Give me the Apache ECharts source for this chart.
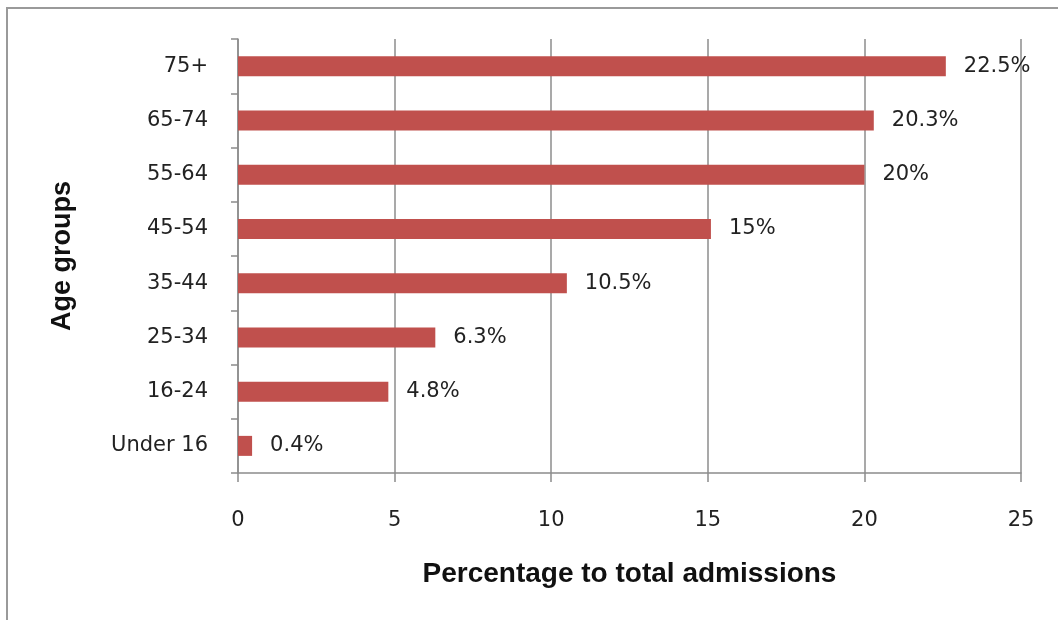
<!DOCTYPE html>
<html>
<head>
<meta charset="utf-8">
<script src="https://cdn.jsdelivr.net/npm/echarts@6/dist/echarts.min.js"></script>
<style>
html,body{margin:0;padding:0;background:#fff;}
#chart{width:1058px;height:620px;}
</style>
</head>
<body>
<div id="chart"></div>
<script>
const categories = ['Under 16', '16-24', '25-34', '35-44', '45-54', '55-64', '65-74', '75+'];
const values = [0.45, 4.8, 6.3, 10.5, 15.1, 20, 20.3, 22.6];
const labelTexts = ['0.4%', '4.8%', '6.3%', '10.5%', '15%', '20%', '20.3%', '22.5%'];
const xTicks = [0, 5, 10, 15, 20, 25];

const chart = echarts.init(document.getElementById('chart'), null, {renderer: 'canvas'});
const gray = '#8c8c8c';
chart.setOption({
  animation: false,
  backgroundColor: '#fff',
  graphic: [{
    type: 'rect',
    shape: {x: 7, y: 8, width: 1200, height: 800},
    style: {fill: 'none', stroke: '#9a9a9a', lineWidth: 2},
    silent: true, z: -1
  }],
  grid: {left: 238, right: 37, top: 39, bottom: 147, containLabel: false},
  xAxis: {
    type: 'value',
    min: xTicks[0], max: xTicks[xTicks.length - 1], interval: 5,
    name: 'Percentage to total admissions',
    nameLocation: 'middle',
    nameGap: 87,
    nameTextStyle: {fontFamily: 'Liberation Sans', fontWeight: 'bold', fontSize: 28, color: '#111'},
    axisLine: {show: true, lineStyle: {color: gray, width: 1.5}},
    axisTick: {show: true, length: 9, lineStyle: {color: gray, width: 1.5}},
    axisLabel: {margin: 37, fontFamily: 'DejaVu Sans', fontSize: 21, color: '#222'},
    splitLine: {show: true, lineStyle: {color: gray, width: 1.5}}
  },
  yAxis: {
    type: 'category',
    data: categories,
    name: 'Age groups',
    nameLocation: 'middle',
    nameGap: 162,
    nameRotate: 90,
    nameTextStyle: {fontFamily: 'Liberation Sans', fontWeight: 'bold', fontSize: 27, color: '#111'},
    axisLine: {show: true, lineStyle: {color: gray, width: 1.5}},
    axisTick: {show: true, length: 7, lineStyle: {color: gray, width: 1.5}},
    axisLabel: {margin: 30, fontFamily: 'DejaVu Sans', fontSize: 21, color: '#222'},
    splitLine: {show: false}
  },
  series: [{
    type: 'bar',
    data: values,
    barWidth: 20,
    itemStyle: {color: '#C0504D'},
    label: {
      show: true,
      position: 'right',
      distance: 18,
      fontFamily: 'DejaVu Sans',
      fontSize: 21,
      color: '#222',
      formatter: p => labelTexts[p.dataIndex]
    }
  }]
});
</script>
</body>
</html>
